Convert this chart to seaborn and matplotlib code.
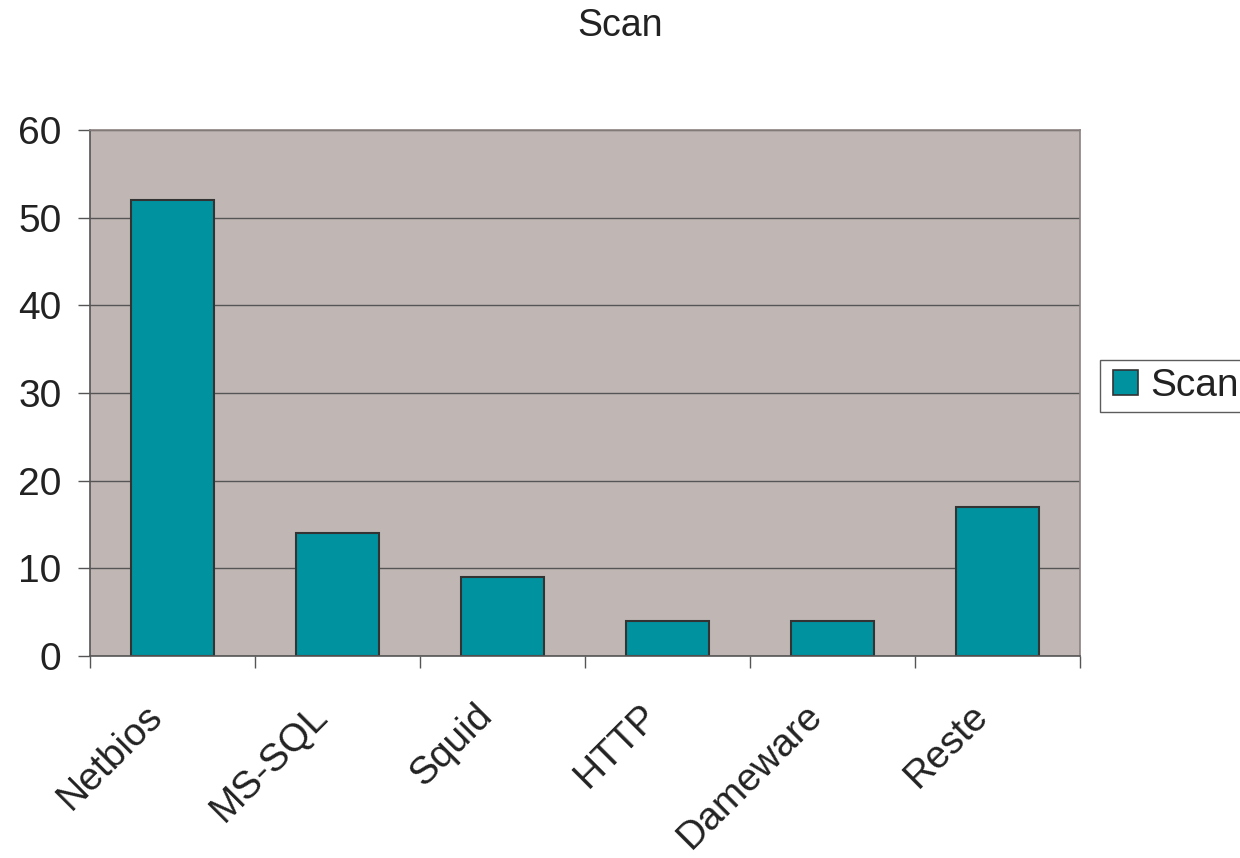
import numpy as np
import pandas as pd
import matplotlib
matplotlib.use('Agg')
import matplotlib.pyplot as plt
import matplotlib.transforms as mtransforms
import seaborn as sns
from matplotlib.lines import Line2D

categories = ['Netbios', 'MS-SQL', 'Squid', 'HTTP', 'Dameware', 'Reste']
scan = [52, 14, 9, 4, 4, 17]

sns.set_style('white')
plt.rcParams['font.family'] = ['Liberation Sans', 'DejaVu Sans']

df = pd.DataFrame({'cat': categories, 'Scan': scan})

fig = plt.figure(figsize=(12.4, 8.58), dpi=100)
ax = fig.add_axes([0.0726, 0.2354, 0.7984, 0.6131])
ax.set_facecolor('#C0B7B4')

sns.barplot(data=df, x='cat', y='Scan', color='#00929F', width=0.5,
            edgecolor='#333333', linewidth=1.5, saturation=1, ax=ax)

ax.set_xlim(-0.5, len(categories) - 0.5)
ax.set_ylim(0, 60)
ax.set_yticks(range(0, 61, 10))
ax.yaxis.grid(True, color='#555555', linewidth=1)
ax.set_axisbelow(True)
for s in ['top', 'right']:
    ax.spines[s].set_color('#8a8280')
for s in ['left', 'bottom']:
    ax.spines[s].set_color('#555555')
for s in ax.spines.values():
    s.set_linewidth(1.2)

fs = 28
ax.set_xticks(np.arange(len(categories)))
ax.set_xticklabels(categories, rotation=45, ha='right', rotation_mode='anchor', fontsize=fs, color='#222222')
ax.tick_params(axis='x', which='major', length=0, pad=14)
ax.set_xticks(np.arange(-0.5, len(categories), 1.0), minor=True)
ax.tick_params(axis='x', which='minor', length=8.6, width=1, color='#555555', direction='out', bottom=True)
ax.tick_params(axis='y', length=8.6, width=1, color='#555555', direction='out', left=True, labelsize=fs, labelcolor='#222222', pad=12)
ax.set_xlabel('')
ax.set_ylabel('')

# nudge the rotated labels down-left like the original
offset = mtransforms.ScaledTranslation(-0.28, -0.22, fig.dpi_scale_trans)
for lbl in ax.get_xticklabels():
    lbl.set_transform(lbl.get_transform() + offset)

fig.text(0.5, 0.97, 'Scan', ha='center', va='center', fontsize=27, color='#222222')

handle = Line2D([], [], marker='s', linestyle='none', markersize=18,
                markerfacecolor='#00929F', markeredgecolor='#333333', markeredgewidth=1.2)
leg = fig.legend([handle], ['Scan'], loc='center left', bbox_to_anchor=(0.887, 0.55),
                 fontsize=fs, frameon=True, fancybox=False, handletextpad=0.2,
                 borderpad=0.2, handlelength=0.9, borderaxespad=0)
leg.get_frame().set_edgecolor('#333333')
leg.get_frame().set_linewidth(1.0)
for t in leg.get_texts():
    t.set_color('#222222')

fig.savefig('out.png', dpi=100)
